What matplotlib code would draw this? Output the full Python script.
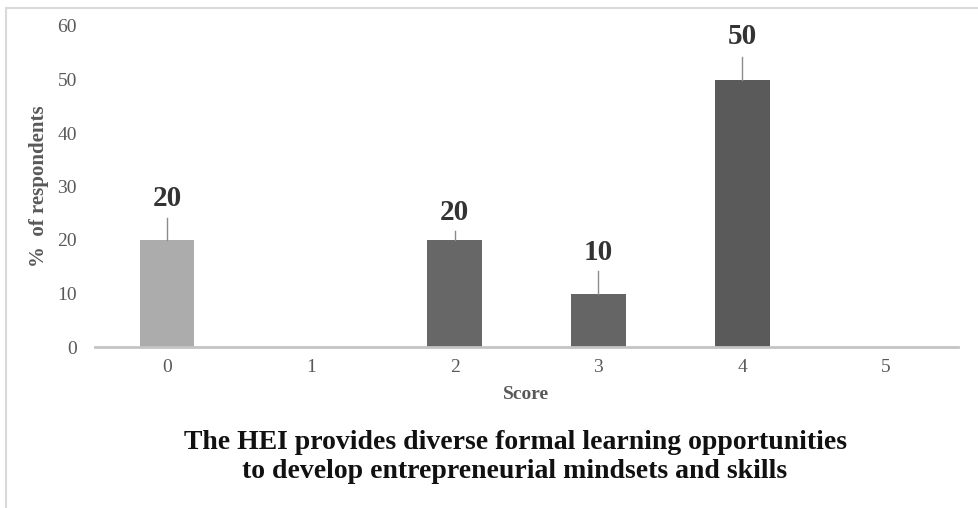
import matplotlib
matplotlib.use("Agg")
import matplotlib.pyplot as plt
from matplotlib.patches import Rectangle

# ── Data ───────────────────────────────────────────────────────────────────
scores = [0, 1, 2, 3, 4, 5]
pct_respondents = [20, 0, 20, 10, 50, 0]
label_text = ["20", "", "20", "10", "50", ""]

# label placement (data units): where the leader line ends, where text sits
label_line_top = [24.1, None, 21.7, 14.2, 54.2, None]
label_center = [27.7, None, 25.2, 17.6, 58.0, None]

bar_colors = ["#acacac", "#676767", "#676767", "#656565", "#5a5a5a", "#5a5a5a"]

TITLE = ("The HEI provides diverse formal learning opportunities\n"
         "to develop entrepreneurial mindsets and skills")

SERIF = ["Liberation Serif", "DejaVu Serif"]
GREY_TXT = "#595959"

# ── Plot ───────────────────────────────────────────────────────────────────
fig = plt.figure(figsize=(9.79, 5.08), dpi=100)
W, H = 979, 508
ax = fig.add_axes([95 / W, 1 - 347 / H, (958 - 95) / W, (347 - 26) / H])

ax.bar(scores, pct_respondents, width=0.38, color=bar_colors, zorder=2)

for x, v, txt, lt, lc in zip(scores, pct_respondents, label_text,
                             label_line_top, label_center):
    if not txt:
        continue
    ax.plot([x, x], [v, lt], color="#8c8c8c", linewidth=1.0, zorder=3)
    ax.text(x, lc, txt, ha="center", va="center", fontsize=21,
            fontweight="bold", color="#333333", family=SERIF)

ax.set_xlim(-0.5, 5.5)
ax.set_ylim(0, 60)
ax.set_xticks(scores)
ax.set_yticks(range(0, 61, 10))
ax.tick_params(length=0, labelsize=14, labelcolor=GREY_TXT, pad=9)
ax.tick_params(axis="y", pad=13)
for lbl in ax.get_xticklabels() + ax.get_yticklabels():
    lbl.set_family(SERIF)

for side in ["top", "right", "left"]:
    ax.spines[side].set_visible(False)
ax.spines["bottom"].set_color("#c4c4c4")
ax.spines["bottom"].set_linewidth(2.0)

ax.set_xlabel("Score", fontsize=14, fontweight="bold", color=GREY_TXT,
              family=SERIF, labelpad=7)
ax.set_ylabel("%  of respondents", fontsize=15, fontweight="bold",
              color=GREY_TXT, family=SERIF, labelpad=6)

fig.text(515 / W, 1 - 457 / H, TITLE, ha="center", va="center",
         fontsize=20, fontweight="bold", color="#111111", family=SERIF,
         linespacing=1.2)

# light frame cut by the image edges (top and left visible)
fig.patches.append(Rectangle((6 / W, -0.2), 1.2, 1.2 - 8 / H,
                             transform=fig.transFigure, fill=False,
                             edgecolor="#d9d9d9", linewidth=1.5))

fig.savefig("out.png", dpi=100, facecolor="white")
